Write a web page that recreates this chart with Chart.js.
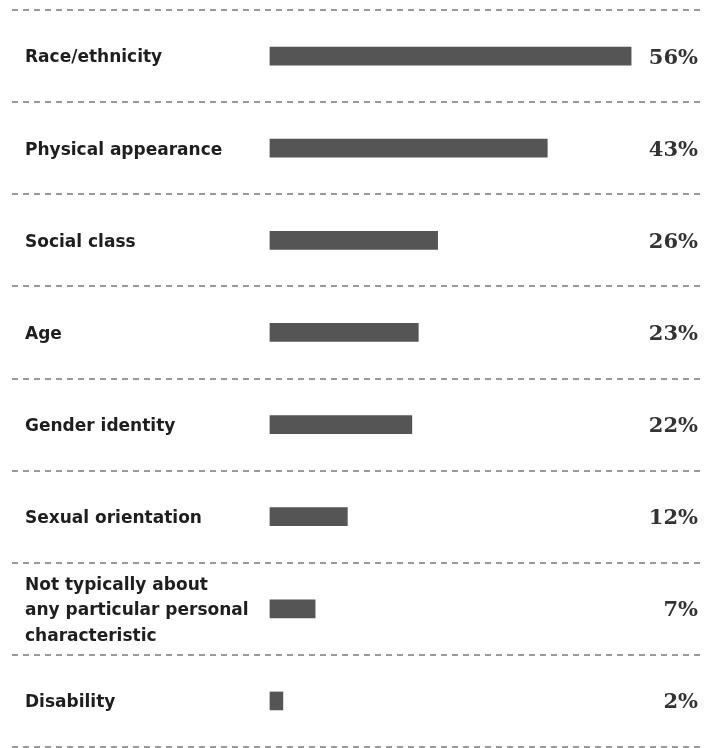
<!DOCTYPE html>
<html>
<head>
<meta charset="utf-8">
<script src="https://cdn.jsdelivr.net/npm/chart.js@4"></script>
<style>
  html,body{margin:0;padding:0;background:#fff;}
  #wrap{width:706px;height:748px;position:relative;}
</style>
</head>
<body>
<div id="wrap"><canvas id="c"></canvas></div>
<script>
// categories and shares (%)
const labels = [
  'Race/ethnicity',
  'Physical appearance',
  'Social class',
  'Age',
  'Gender identity',
  'Sexual orientation',
  ['Not typically about', 'any particular personal', 'characteristic'],
  'Disability'
];
const values = [56, 43, 26, 23, 22, 12, 7, 2];

// right-hand percentage labels
const valueLabels = {
  id:'valueLabels',
  afterDatasetsDraw(chart){
    const ctx = chart.ctx;
    const ys = chart.scales.y;
    ctx.save();
    ctx.font = 'bold 21px "DejaVu Serif"';
    ctx.fillStyle = '#333';
    ctx.textAlign = 'right';
    ctx.textBaseline = 'middle';
    values.forEach((v,i)=>{
      ctx.fillText(v+'%', 698, ys.getPixelForValue(i)+2);
    });
    ctx.restore();
  }
};

new Chart(document.getElementById('c'),{
  type:'bar',
  data:{labels, datasets:[{data:values, backgroundColor:'#555555', barThickness:18}]},
  options:{
    indexAxis:'y',
    responsive:true,
    maintainAspectRatio:false,
    animation:false,
    layout:{padding:{left:12, right:2, top:10, bottom:1}},
    plugins:{legend:{display:false}, tooltip:{enabled:false}},
    scales:{
      x:{display:false, min:-40, max:67.3},
      y:{
        afterFit: s=>{ s.width = 0; s.paddingTop = 0; s.paddingBottom = 0; },
        border:{display:false, dash:[6,5]},
        grid:{offset:true, color:'#9a9a9a', lineWidth:2, drawTicks:false, tickLength:0},
        ticks:{
          mirror:true, padding:13, labelOffset:2, color:'#1e1e1e',
          font:{family:'"DejaVu Sans", sans-serif', size:17, weight:'bold', lineHeight:1.5}
        }
      }
    }
  },
  plugins:[valueLabels]
});
</script>
</body>
</html>
